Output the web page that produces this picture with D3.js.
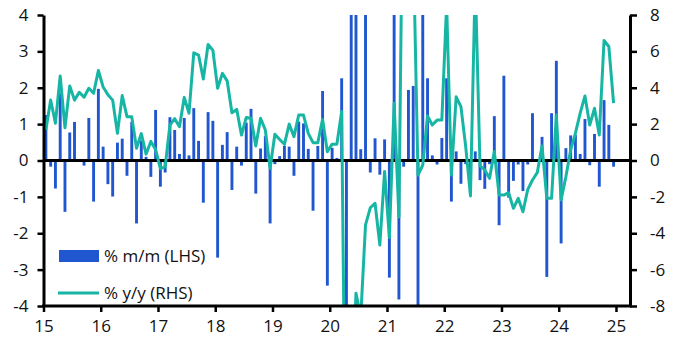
<!DOCTYPE html>
<html><head><meta charset="utf-8">
<script src="https://cdn.jsdelivr.net/npm/d3@7"></script>
<style>
html,body{margin:0;padding:0;background:#fff;}
svg{display:block;font-family:"Open Sans",sans-serif;}
</style></head>
<body>
<svg id="c" width="684" height="357"></svg>
<script>
// Monthly data Jan 2015 .. Dec 2024
const startYear = 15;
const xTicks = [15,16,17,18,19,20,21,22,23,24,25];
const lhsTicks = [-4,-3,-2,-1,0,1,2,3,4];
const rhsTicks = [-8,-6,-4,-2,0,2,4,6,8];
const seriesNames = ["% m/m (LHS)", "% y/y (RHS)"];

// % m/m (LHS)
const mm = [
 1.25,-0.17,-0.77,1.85,-1.41,0.77,1.06,0.0,-0.14,1.17,-1.13,1.97,
 0.38,-0.65,-0.99,0.49,0.6,-0.42,1.06,-1.73,0.55,0.1,-0.45,1.39,
 -0.72,-0.33,1.19,0.84,0.18,1.17,0.14,1.44,0.54,-1.16,1.33,1.09,
 -2.67,0.43,0.78,-0.81,0.38,-0.14,1.04,1.42,-0.91,0.33,0.67,-1.73,
 -0.1,0.12,0.4,0.38,-0.42,1.07,1.02,0.32,-1.38,0.4,1.91,-3.44,
 0.35,0.07,2.26,-15,10,8,0.31,4.5,-0.33,0.61,-0.39,0.58,
 -3.22,7.4,-3.82,-0.17,1.94,2.05,-8,6,2.26,0.14,-0.11,0.62,
 2.26,-1.13,0.25,-0.64,-0.1,-0.66,0.25,-0.54,-0.78,-0.1,1.22,-1.78,
 2.33,-1.02,-0.56,-0.11,-0.84,-0.11,1.3,0.0,0.65,-3.2,1.3,2.74,
 -2.28,0.34,0.69,0.7,0.18,1.14,-0.13,0.73,-0.72,1.66,0.98,-0.17
];
// % y/y (RHS)
const yy = [
 1.68,3.33,2.05,4.65,1.8,4.1,3.32,3.75,3.48,3.97,3.7,4.95,
 4.04,3.62,3.32,1.5,3.57,2.41,2.4,0.67,1.48,0.35,1.05,0.6,
 -0.45,-0.35,1.95,2.3,1.86,3.47,2.6,5.92,5.8,4.48,6.38,6.07,
 3.97,4.79,4.38,2.63,2.81,1.4,2.37,2.32,0.8,2.32,1.68,-0.43,
 1.44,1.16,0.89,2.0,1.31,2.5,2.5,1.49,0.98,0.98,2.26,0.48,
 0.9,0.9,2.7,-22,-14,-7.3,-8.6,-3.54,-2.6,-2.35,-4.65,-0.6,
 -4.24,3.15,-3.1,20,14,12,-0.8,-0.25,2.45,1.95,2.22,2.22,
 8.6,-0.8,3.5,2.96,0.76,-1.95,10,-0.3,-0.52,-0.98,0.49,-1.9,
 -1.9,-1.77,-2.63,-2.08,-2.82,-1.6,-1.07,-0.67,0.8,-2.08,-2.08,2.5,
 -2.17,-0.89,0.58,1.5,2.6,3.55,1.95,2.87,1.4,6.6,6.27,3.15
];

const mLeft = 43.5, mRight = 630, mTop = 15, mBottom = 306;
const svg = d3.select("#c");

const x = d3.scaleLinear().domain([15, 25.245]).range([mLeft, mRight]);
const yL = d3.scaleLinear().domain([-4, 4]).range([mBottom, mTop]);
const yR = d3.scaleLinear().domain([-8, 8]).range([mBottom, mTop]);

const tOf = i => startYear + (i + 0.5) / 12;
const barColor = "#2057d0";
const lineColor = "#17b6a4";

svg.append("defs").append("clipPath").attr("id","clip")
  .append("rect").attr("x", mLeft).attr("y", mTop).attr("width", mRight-mLeft).attr("height", mBottom-mTop);

const plot = svg.append("g").attr("clip-path","url(#clip)");
const bw = 2.9;
plot.selectAll("rect.bar").data(mm).join("rect").attr("class","bar")
  .attr("x", (d,i) => x(tOf(i)) - bw/2)
  .attr("width", bw)
  .attr("y", d => yL(Math.max(0,d)))
  .attr("height", d => Math.abs(yL(d) - yL(0)))
  .attr("fill", barColor);

// zero line
svg.append("line").attr("x1", mLeft).attr("x2", mRight).attr("y1", yL(0)).attr("y2", yL(0))
  .attr("stroke","#000").attr("stroke-width",3);

const line = d3.line().x((d,i) => x(tOf(i))).y(d => yR(d));
const plot2 = svg.append("g").attr("clip-path","url(#clip)");
plot2.append("path").datum(yy).attr("d", line).attr("fill","none")
  .attr("stroke", lineColor).attr("stroke-width", 3).attr("stroke-linejoin","round");

function styleAxis(g){
  g.select(".domain").attr("stroke","#000").attr("stroke-width",3);
  g.selectAll(".tick line").attr("stroke","#000").attr("stroke-width",2.5);
  g.selectAll(".tick text").attr("fill","#111").style("font-size","17px").style("font-family","'Open Sans',sans-serif");
}

const gx = svg.append("g").attr("transform",`translate(0,${mBottom})`)
  .call(d3.axisBottom(x).tickValues(xTicks).tickFormat(d3.format("d")).tickSize(6).tickSizeOuter(0).tickPadding(8));
styleAxis(gx);
gx.select(".domain").attr("d", `M${mLeft-1.5},0H${mRight+1.5}`);

const gl = svg.append("g").attr("transform",`translate(${mLeft},0)`)
  .call(d3.axisLeft(yL).tickValues(lhsTicks).tickFormat(d => d < 0 ? "-" + Math.abs(d) : d).tickSize(6).tickSizeOuter(0).tickPadding(9));
styleAxis(gl);

const gr = svg.append("g").attr("transform",`translate(${mRight},0)`)
  .call(d3.axisRight(yR).tickValues(rhsTicks).tickFormat(d => d < 0 ? "-" + Math.abs(d) : d).tickSize(7).tickSizeOuter(0).tickPadding(13));
styleAxis(gr);

// legend
const lg = svg.append("g");
lg.append("rect").attr("x",59).attr("y",250).attr("width",40).attr("height",12).attr("fill",barColor);
lg.append("text").attr("x",104).attr("y",256).attr("dy","0.35em").text(seriesNames[0])
  .style("font-size","17px").attr("fill","#111");
lg.append("line").attr("x1",58).attr("x2",99).attr("y1",293).attr("y2",293).attr("stroke",lineColor).attr("stroke-width",3);
lg.append("text").attr("x",104).attr("y",293).attr("dy","0.35em").text(seriesNames[1])
  .style("font-size","17px").attr("fill","#111");
</script>
</body></html>
